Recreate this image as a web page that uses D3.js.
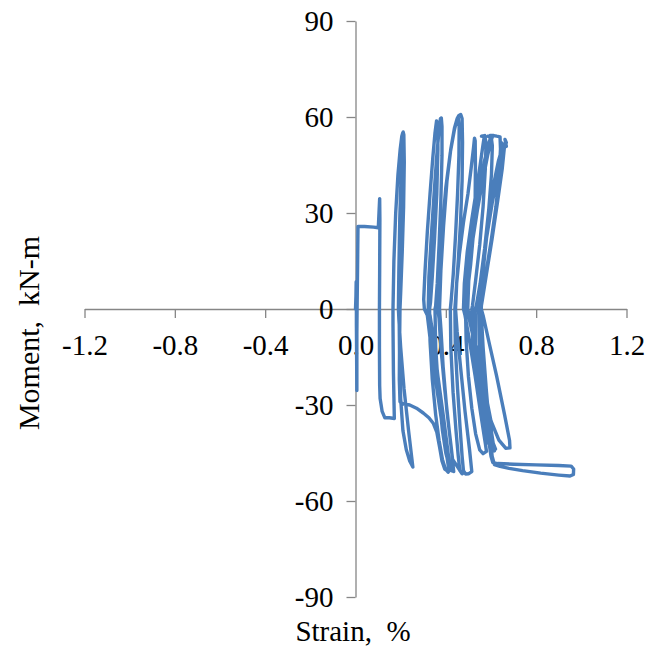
<!DOCTYPE html>
<html>
<head>
<meta charset="utf-8">
<script src="https://cdn.jsdelivr.net/npm/d3@7"></script>
<style>
  body { margin: 0; background: #fff; }
  svg { display: block; }
  text { font-family: "Liberation Serif", "Times New Roman", serif; fill: #000; }
</style>
</head>
<body>
<svg id="chart" width="652" height="651"></svg>
<script>
// Axis ticks and labels
const xTicks = [-1.2, -0.8, -0.4, 0, 0.4, 0.8, 1.2];
const xTickLabels = ["-1.2", "-0.8", "-0.4", "0.0", "0.4", "0.8", "1.2"];
const yTicks = [-90, -60, -30, 0, 30, 60, 90];
const yTickLabels = ["-90", "-60", "-30", "0", "30", "60", "90"];

// Recorded cycles, [strain %, moment kN-m], in load order
const cycle0 = [[0.000,0],[0.002,4],[0.003,8.5],[0.004,4],[0.004,-5],[0.005,-15],[0.006,-25.5],[0.006,-20],[0.006,-8]];
const cycle1 = [[0.007,0],[0.009,12],[0.011,25.8],[0.04,25.8],[0.08,25.6],[0.101,25.4],[0.104,30],[0.107,34.5],[0.108,28],
  [0.107,12],[0.106,0],[0.106,-12],[0.107,-24],[0.109,-28],[0.118,-32],[0.13,-34],[0.15,-34],[0.172,-34.2]];
const cycle2 = [[0.168,-20],[0.166,-5],[0.166,0],[0.17,15],[0.178,30],[0.188,42],[0.198,50],[0.205,54],[0.209,55],[0.212,53],
  [0.211,42],[0.205,25],[0.198,10],[0.193,0],[0.195,-15],[0.2,-28],[0.21,-38],[0.225,-44],[0.24,-47.5],[0.254,-49.4]];
const cycle3 = [[0.25,-47],[0.235,-38],[0.215,-25],[0.2,-12],[0.192,-3],[0.19,0],[0.192,12],[0.196,28],[0.202,42],[0.207,51],
  [0.211,55.3],[0.214,54.5],[0.216,46],[0.213,32],[0.207,18],[0.2,5],[0.197,0],[0.195,-12],[0.194,-22],[0.197,-29],
  [0.21,-29.6],[0.24,-30],[0.27,-31],[0.3,-32.5],[0.325,-34],[0.345,-35.8],[0.36,-38.5],[0.372,-43],[0.383,-47.5],
  [0.395,-50],[0.405,-50.5],[0.412,-49.5]];
const cycle4 = [[0.4,-44],[0.375,-32],[0.35,-20],[0.33,-9],[0.318,-2],[0.305,0],[0.302,3],[0.308,12],[0.318,24],[0.33,36],
  [0.342,47],[0.352,55],[0.359,58.8],[0.364,58],[0.365,50],[0.36,36],[0.35,22],[0.34,10],[0.332,2],[0.328,0],[0.33,-10],
  [0.34,-22],[0.355,-33],[0.37,-41],[0.385,-47],[0.398,-50],[0.41,-51],[0.42,-50]];
const cycle5 = [[0.41,-45],[0.39,-34],[0.365,-21],[0.345,-9],[0.33,-2],[0.322,0],[0.325,10],[0.335,22],[0.348,36],[0.36,48],
  [0.37,56],[0.376,59.5],[0.38,59.7],[0.383,57],[0.383,48],[0.378,34],[0.37,20],[0.362,8],[0.355,1],[0.352,0],[0.355,-12],
  [0.368,-26],[0.385,-38],[0.4,-45],[0.415,-49],[0.425,-50.5],[0.435,-50.8]];
const cycle6 = [[0.425,-44],[0.405,-32],[0.388,-18],[0.378,-6],[0.372,0],[0.378,12],[0.39,26],[0.405,40],[0.422,50],
  [0.438,56.5],[0.449,59.2],[0.455,59.6],[0.459,57],[0.458,48],[0.452,36],[0.443,23],[0.433,11],[0.424,3],[0.42,0],
  [0.422,-12],[0.432,-26],[0.445,-38],[0.455,-46],[0.462,-50.5],[0.472,-51.5]];
const cycle7 = [[0.43,-47],[0.415,-38],[0.395,-25],[0.378,-12],[0.37,-3],[0.365,0],[0.37,10],[0.383,24],[0.4,38],[0.42,49],
  [0.438,56],[0.45,59.5],[0.458,60.5],[0.466,60.8],[0.472,59.5],[0.474,52],[0.472,40],[0.465,27],[0.455,15],[0.445,5],
  [0.44,0],[0.442,-12],[0.452,-25],[0.463,-37],[0.472,-46],[0.478,-50.5],[0.488,-51.6],[0.5,-51.5],[0.515,-50.8]];
const cycle8 = [[0.505,-44],[0.485,-32],[0.465,-18],[0.45,-7],[0.443,0],[0.448,8],[0.46,17],[0.478,27],[0.498,36],[0.512,44],
  [0.522,50],[0.527,53.4],[0.53,52.5],[0.531,45],[0.53,35],[0.524,25],[0.51,14],[0.495,5],[0.487,0],[0.49,-10],[0.5,-21],
  [0.515,-31],[0.532,-39],[0.55,-44],[0.565,-45.2],[0.58,-44.5]];
const cycle9 = [[0.575,-42],[0.555,-33],[0.53,-21],[0.505,-10],[0.485,-2],[0.478,0],[0.482,8],[0.495,18],[0.515,28],[0.535,37],
  [0.552,45],[0.564,51],[0.57,53.8],[0.558,54],[0.572,54.2],[0.578,52],[0.575,44],[0.565,32],[0.55,20],[0.532,9],[0.518,1],
  [0.515,0],[0.52,-12],[0.54,-25],[0.565,-35],[0.59,-42],[0.605,-44.5],[0.615,-44.3]];
const cycle10 = [[0.6,-40],[0.578,-31],[0.55,-20],[0.522,-9],[0.5,-2],[0.49,0],[0.492,9],[0.505,19],[0.525,29],[0.548,38],
  [0.57,46],[0.588,51],[0.598,53.6],[0.586,54],[0.6,54.2],[0.606,51],[0.602,42],[0.59,31],[0.572,19],[0.552,8],[0.535,1],
  [0.53,0],[0.533,-12],[0.55,-24],[0.575,-34],[0.598,-41],[0.612,-44],[0.62,-43.8]];
const cycle11 = [[0.61,-42],[0.59,-33],[0.56,-21],[0.53,-10],[0.505,-2],[0.497,0],[0.502,10],[0.518,21],[0.54,31],[0.563,40],
  [0.585,48],[0.6,52.5],[0.607,54],[0.596,54.2],[0.612,54.2],[0.625,54],[0.64,53.8],[0.642,50],[0.636,42],[0.622,32],
  [0.6,21],[0.575,10],[0.552,2],[0.545,0],[0.55,-12],[0.572,-25],[0.6,-35],[0.635,-41],[0.665,-43.5],[0.684,-43.4],[0.682,-41]];
const cycle12 = [[0.66,-33],[0.625,-21],[0.59,-10],[0.565,-2],[0.557,0],[0.562,10],[0.575,20],[0.592,30],[0.612,39],[0.632,46],
  [0.648,50],[0.657,51.2],[0.645,52],[0.66,51],[0.65,44],[0.63,34],[0.605,22],[0.58,11],[0.562,3],[0.555,0],[0.556,-10],
  [0.565,-22],[0.578,-33],[0.59,-41],[0.6,-46],[0.608,-48],[0.63,-48.3],[0.7,-48.5],[0.8,-48.7],[0.9,-48.9],[0.955,-49.1],
  [0.966,-50],[0.965,-51.7],[0.95,-52.2],[0.9,-51.9],[0.82,-51.3],[0.74,-50.5],[0.68,-49.8],[0.64,-49.2],[0.615,-48.6],[0.605,-46]];
const cycle13 = [[0.595,-38],[0.58,-26],[0.565,-12],[0.558,-3],[0.555,0],[0.562,10],[0.58,22],[0.605,33],[0.63,42],[0.65,48],
  [0.662,51],[0.668,52],[0.662,53],[0.668,50.8]];

const record = [].concat(cycle0, cycle1, cycle2, cycle3, cycle4, cycle5, cycle6, cycle7,
  cycle8, cycle9, cycle10, cycle11, cycle12, cycle13);

const svg = d3.select("#chart");
const x = d3.scaleLinear().domain([-1.2, 1.2]).range([84.5, 626.5]);
const y = d3.scaleLinear().domain([-90, 90]).range([597, 21]);

const axisColor = "#868686";
const fontSize = 29;

// Horizontal axis through zero moment
const gx = svg.append("g").attr("transform", `translate(0,${y(0)})`)
  .call(d3.axisBottom(x).tickValues(xTicks).tickFormat((d, i) => xTickLabels[i])
    .tickSizeInner(9).tickSizeOuter(0).tickPadding(16));
// Vertical axis through zero strain
const gy = svg.append("g").attr("transform", `translate(${x(0)},0)`)
  .call(d3.axisLeft(y).tickValues(yTicks).tickFormat((d, i) => yTickLabels[i])
    .tickSizeInner(9).tickSizeOuter(0).tickPadding(13));

[gx, gy].forEach(g => {
  g.selectAll(".domain, line").attr("stroke", axisColor).attr("stroke-width", 1.3);
  g.selectAll("text").attr("font-size", fontSize)
    .attr("font-family", '"Liberation Serif", "Times New Roman", serif').attr("fill", "#000");
});

// Moment-strain trace
const line = d3.line().x(d => x(d[0])).y(d => y(d[1]));
svg.append("path").datum(record)
  .attr("d", line)
  .attr("fill", "none")
  .attr("stroke", "#4a7ebb")
  .attr("stroke-width", 3.4)
  .attr("stroke-linejoin", "round")
  .attr("stroke-linecap", "round");

// Axis titles
svg.append("text")
  .attr("x", 353).attr("y", 641)
  .attr("text-anchor", "middle")
  .attr("font-size", fontSize)
  .style("white-space", "pre")
  .text("Strain,  %");
svg.append("text")
  .attr("transform", `translate(39,${y(0) + 24}) rotate(-90)`)
  .attr("text-anchor", "middle")
  .attr("font-size", 30)
  .style("white-space", "pre")
  .text("Moment,  kN-m");
</script>
</body>
</html>
